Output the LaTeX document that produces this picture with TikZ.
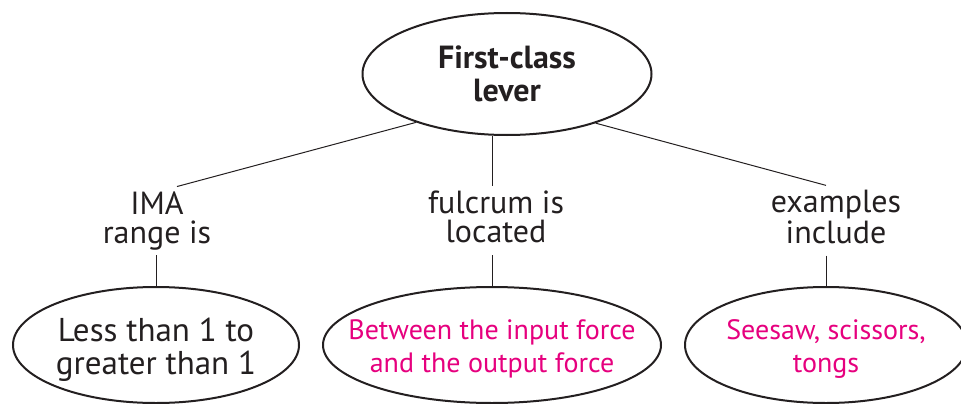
\documentclass[tikz,border=0pt]{standalone}
\usepackage{fontspec}
\setmainfont{PT Sans}
\usepackage{tikz}
\usetikzlibrary{shapes.geometric}
\definecolor{inktext}{RGB}{35,31,32}
\definecolor{pinktext}{RGB}{230,0,126}
\newcommand{\obenstrut}{\rule{0pt}{1em}}
\tikzset{every picture/.style={x=1pt, y=-1pt}}
\tikzstyle{bubble}   = [ellipse, draw=inktext, line width=2pt, inner sep=-30pt, align=center]
\tikzstyle{linktext} = [align=center, inner sep=0pt, text=inktext, font=\fontsize{32}{29}\selectfont]
\tikzstyle{link}     = [draw=inktext, line width=1pt]
\tikzstyle{blacktext} = [text=inktext, font=\fontsize{33}{33}\selectfont]
\tikzstyle{pinkfont}  = [text=pinktext, font=\fontsize{28}{33}\selectfont]

\begin{document}
\begin{tikzpicture}
	\useasboundingbox (0,0) rectangle (961,404);

	% Oberbegriff
	\node[bubble, minimum width=289pt, minimum height=122pt, text=inktext,
		font=\bfseries\fontsize{32}{33}\selectfont] (lever) at (507,74) {First-class\\lever};

	% Verbindungstexte
	\node[linktext] (ima)      at (157,221) {IMA\\range is};
	\node[linktext] (fulcrum)  at (496,217) {fulcrum is\\located};
	\node[linktext] (examples) at (836,217) {examples\\include};

	% Unterbegriffe
	\node[bubble, blacktext, minimum width=286pt, minimum height=116pt] (range)   at (156,345) {\obenstrut Less than 1 to\\greater than 1};
	\node[bubble, pinkfont,  minimum width=338pt, minimum height=116pt] (between) at (492,345) {\obenstrut Between the input force\\and the output force};
	\node[bubble, pinkfont,  minimum width=282pt, minimum height=116pt] (seesaw)  at (826,345) {\obenstrut Seesaw, scissors,\\tongs};

	% Linien
	\draw[link] (lever.208) -- ([xshift=20pt,yshift=5pt]ima.north);
	\draw[link] (lever.south -| between.north) -- ([yshift=5pt]fulcrum.north -| between.north);
	\draw[link] (lever.331) -- ([yshift=5pt]examples.north -| seesaw.north);
	\draw[link] ([yshift=-5pt]ima.south -| range.north) -- (range.north);
	\draw[link] ([yshift=-12pt]fulcrum.south -| between.north) -- (between.north);
	\draw[link] ([yshift=-12pt]examples.south -| seesaw.north) -- (seesaw.north);
\end{tikzpicture}
\end{document}
